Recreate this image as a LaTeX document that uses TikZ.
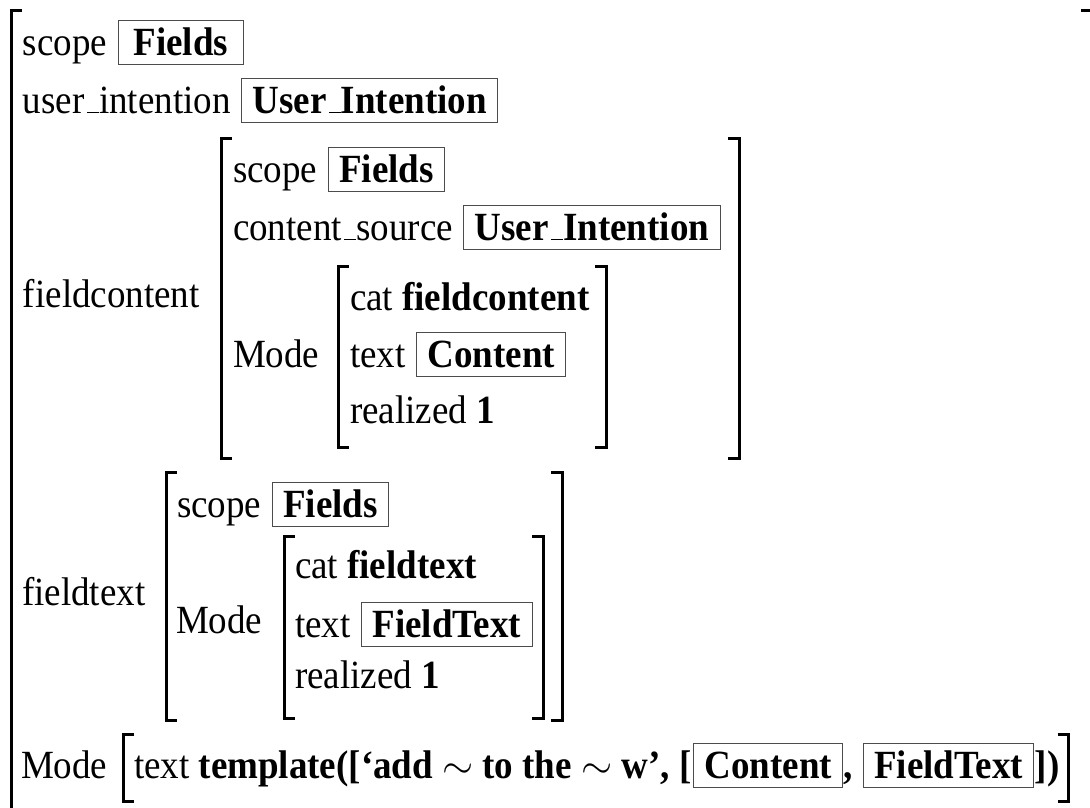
\RequirePackage{fix-cm}
\documentclass[tikz,border=0pt]{standalone}
\usepackage{fontspec}
\setmainfont{Liberation Serif}[FakeStretch=0.925]
% a low, short underscore in the style of LaTeX's \_
\newcommand\usc{\kern.06em\vbox{\hrule width .3em height 1.3pt}}
\begin{document}
\begin{tikzpicture}[x=1pt,y=-1pt,
  every node/.style={font=\fontsize{40}{45}\selectfont, inner sep=0pt, outer sep=0pt, anchor=base west},
  attr/.style={},
  valbox/.style={draw=black!70, line width=1pt, inner xsep=11pt, text height=35pt, text depth=9pt},
  brk/.style={line width=3pt, line join=miter, line cap=butt}]
\clip (0,0) rectangle (1090,807);

% ---------- brackets: left and right of each matrix ----------
% outer matrix
\draw[brk] (22,10) -- (11,10) -- (11,815);
\draw[brk] (1081,10) -- (1093,10) -- (1093,815);
% fieldcontent
\draw[brk] (232,138) -- (221,138) -- (221,458) -- (232,458);
\draw[brk] (728,138) -- (739,138) -- (739,458) -- (728,458);
% fieldcontent / Mode
\draw[brk] (349,266) -- (338,266) -- (338,447) -- (349,447);
\draw[brk] (595,266) -- (606,266) -- (606,447) -- (595,447);
% fieldtext
\draw[brk] (177,472) -- (166,472) -- (166,720) -- (177,720);
\draw[brk] (551,472) -- (562,472) -- (562,720) -- (551,720);
% fieldtext / Mode
\draw[brk] (295,536) -- (284,536) -- (284,718) -- (295,718);
\draw[brk] (532,536) -- (543,536) -- (543,718) -- (532,718);
% bottom Mode
\draw[brk] (134,734) -- (123,734) -- (123,801) -- (134,801);

% ---------- outer matrix rows ----------
\node[attr] (k1) at (23,55) {scope};
\node[valbox, minimum width=125pt] (v1) at ([xshift=11pt]k1.base east) {\textbf{Fields}\hspace{9pt}};
\node[attr] (k2) at (23,113) {user\usc intention};
\node[valbox] (v2) at ([xshift=11pt]k2.base east) {\textbf{User\usc Intention}};

% ---------- fieldcontent ----------
\node[attr] (k3) at (23,307) {fieldcontent};
\node[attr] (k4) at (233,182) {scope};
\node[valbox] (v4) at ([xshift=11pt]k4.base east) {\textbf{Fields}};
\node[attr] (k5) at (233,240) {content\usc source};
\node[valbox] (v5) at ([xshift=11pt]k5.base east) {\textbf{User\usc Intention}};
\node[attr] (k6) at (233,367) {Mode};
\node[attr] (k7) at (350,310) {cat \textbf{fieldcontent}};
\node[attr] (k8) at (350,367) {text};
\node[valbox] (v8) at ([xshift=11pt]k8.base east) {\textbf{Content}};
\node[attr] (k9) at (350,423) {realized \textbf{1}};

% ---------- fieldtext ----------
\node[attr] (k10) at (22,605) {fieldtext};
\node[attr] (k11) at (177,517) {scope};
\node[valbox] (v11) at ([xshift=11pt]k11.base east) {\textbf{Fields}};
\node[attr] (k12) at (176,633) {Mode};
\node[attr] (k13) at (295,578) {cat \textbf{fieldtext}};
\node[attr] (k14) at (295,637) {text};
\node[valbox] (v14) at ([xshift=11pt]k14.base east) {\textbf{FieldText}};
\node[attr] (k15) at (295,688) {realized \textbf{1}};

% ---------- bottom Mode ----------
\node[attr] (k16) at (21,778) {Mode};
\node[attr] (k17) at (134,778) {text \textbf{template([‘add \ensuremath{\sim} to the \ensuremath{\sim} w’, [}};
\node[valbox] (v17) at ([xshift=2pt]k17.base east) {\textbf{Content}};
\node[attr] (k18) at ([xshift=1pt]v17.base east) {\textbf{,}};
\node[valbox] (v18) at ([xshift=10pt]k18.base east) {\textbf{FieldText}};
\node[attr] (k19) at ([xshift=1pt]v18.base east) {\textbf{])}};
\coordinate (rb) at ([xshift=9pt]k19.base east);
\coordinate (rt) at (0,734);
\coordinate (rbot) at (0,801);
\draw[brk] ([xshift=-11pt]rb |- rt) -- (rb |- rt) -- (rb |- rbot) -- ([xshift=-11pt]rb |- rbot);
\end{tikzpicture}
\end{document}
